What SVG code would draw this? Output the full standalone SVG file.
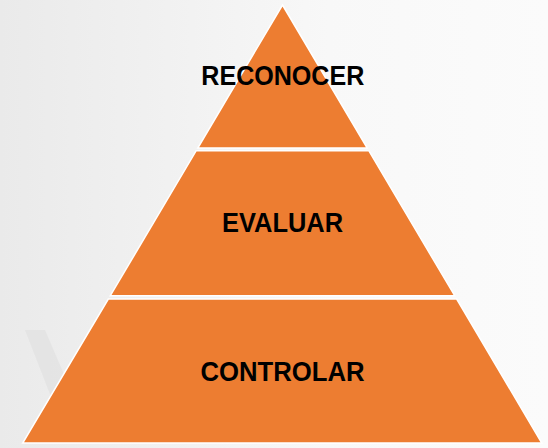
<svg xmlns="http://www.w3.org/2000/svg" width="548" height="448" viewBox="0 0 548 448">
  <defs>
    <linearGradient id="bg" x1="0" y1="0" x2="1" y2="0">
      <stop offset="0" stop-color="#eaeaea"/>
      <stop offset="0.35" stop-color="#f2f2f2"/>
      <stop offset="0.6" stop-color="#f8f8f8"/>
      <stop offset="1" stop-color="#fbfbfb"/>
    </linearGradient>
    <style>
      .seg { fill: #ED7D31; stroke: #ffffff; stroke-width: 1.5; stroke-linejoin: miter; }
      .lbl { font-family: "Liberation Sans", Arial, sans-serif; font-weight: bold; fill: #000000; text-anchor: middle; }
    </style>
  </defs>
  <rect width="548" height="448" fill="url(#bg)"/>
  <polygon points="25,330 45,330 75,400 60,420" fill="#e2e2e2" opacity="0.8"/>
  <g id="node-reconocer">
    <polygon class="seg" points="282.5,5 367.2,148 197.8,148"/>
    <text class="lbl" x="282.8" y="85" font-size="27.5" textLength="163" lengthAdjust="spacingAndGlyphs">RECONOCER</text>
  </g>
  <g id="node-evaluar">
    <polygon class="seg" points="196.2,150.7 368.8,150.7 454.7,295.7 110.3,295.7"/>
    <text class="lbl" x="282.5" y="232" font-size="27.5" textLength="121" lengthAdjust="spacingAndGlyphs">EVALUAR</text>
  </g>
  <g id="node-controlar">
    <polygon class="seg" points="108.3,299 456.7,299 541.8,443 22.7,443"/>
    <text class="lbl" x="282.5" y="380.7" font-size="27.5" textLength="164" lengthAdjust="spacingAndGlyphs">CONTROLAR</text>
  </g>
  <g id="connectors"/>
</svg>
